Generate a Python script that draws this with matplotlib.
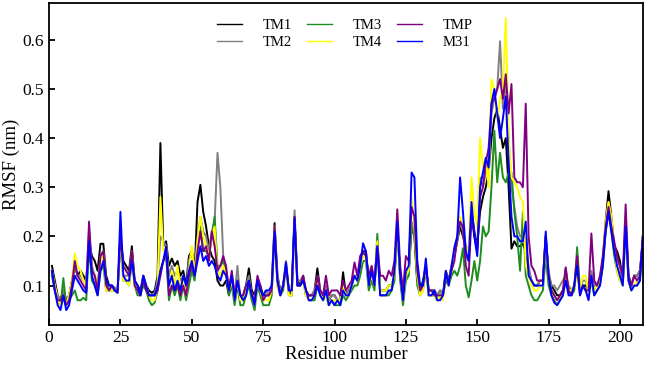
import matplotlib
matplotlib.use('Agg')
import matplotlib.pyplot as plt
import numpy as np

plt.rcParams['font.family'] = ['Liberation Serif', 'DejaVu Serif']

residues = list(range(1, 209))

tm1 = [.14, .11, .08, .07, .09, .07, .08, .11, .14, .12,
       .13, .12, .11, .19, .16, .15, .13, .185, .185, .12,
       .10, .10, .095, .09, .20, .15, .14, .13, .18, .11,
       .10, .09, .12, .10, .09, .085, .09, .12, .39, .18,
       .19, .14, .155, .14, .15, .12, .13, .10, .16, .17,
       .13, .27, .305, .25, .22, .18, .16, .15, .11, .10,
       .10, .11, .08, .12, .08, .11, .07, .08, .10, .135,
       .09, .08, .11, .10, .08, .08, .08, .10, .227, .12,
       .09, .10, .14, .09, .08, .24, .11, .10, .12, .08,
       .08, .08, .09, .135, .09, .08, .09, .07, .08, .08,
       .07, .07, .127, .08, .09, .10, .12, .11, .14, .17,
       .17, .11, .13, .10, .19, .09, .09, .09, .10, .10,
       .12, .22, .12, .07, .12, .13, .22, .20, .11, .09,
       .11, .14, .09, .09, .09, .08, .09, .08, .13, .11,
       .14, .16, .19, .22, .20, .18, .17, .25, .21, .18,
       .25, .28, .30, .33, .40, .44, .46, .42, .38, .40,
       .30, .175, .19, .18, .18, .185, .17, .13, .11, .10,
       .10, .11, .11, .20, .12, .10, .09, .08, .08, .09,
       .11, .09, .09, .10, .13, .09, .10, .10, .09, .12,
       .10, .10, .11, .15, .23, .292, .24, .18, .17, .15,
       .11, .23, .12, .10, .12, .12, .13, .19]

tm2 = [.13, .10, .08, .07, .09, .07, .08, .10, .14, .12,
       .12, .11, .10, .21, .14, .12, .10, .16, .17, .11,
       .09, .10, .095, .09, .21, .12, .12, .12, .17, .10,
       .09, .08, .12, .10, .08, .08, .085, .11, .20, .19,
       .18, .12, .14, .12, .13, .11, .12, .09, .15, .17,
       .13, .20, .24, .21, .20, .17, .21, .23, .37, .30,
       .16, .13, .10, .12, .08, .14, .07, .08, .10, .12,
       .08, .07, .11, .09, .08, .09, .08, .10, .22, .12,
       .09, .10, .15, .09, .09, .253, .11, .11, .12, .09,
       .08, .08, .09, .12, .09, .08, .10, .07, .08, .08,
       .07, .07, .10, .08, .09, .10, .12, .11, .15, .16,
       .17, .11, .13, .10, .19, .09, .09, .09, .10, .10,
       .12, .22, .12, .07, .12, .13, .23, .21, .12, .09,
       .10, .14, .09, .09, .09, .08, .09, .08, .12, .11,
       .14, .16, .19, .23, .21, .16, .15, .25, .20, .17,
       .32, .30, .33, .35, .45, .48, .50, .597, .46, .52,
       .40, .30, .26, .22, .20, .20, .18, .14, .11, .10,
       .10, .11, .11, .20, .13, .10, .10, .09, .10, .11,
       .12, .10, .09, .10, .14, .09, .11, .11, .09, .13,
       .10, .10, .11, .15, .22, .27, .23, .18, .15, .14,
       .11, .23, .12, .10, .12, .12, .13, .19]

tm3 = [.12, .09, .07, .06, .115, .06, .07, .08, .09, .07,
       .07, .075, .07, .18, .11, .10, .08, .13, .14, .09,
       .09, .09, .09, .085, .19, .11, .11, .10, .15, .10,
       .08, .08, .10, .09, .07, .06, .065, .09, .13, .15,
       .16, .07, .10, .08, .10, .07, .10, .07, .10, .13,
       .11, .18, .22, .17, .17, .16, .20, .24, .14, .14,
       .15, .13, .08, .10, .06, .10, .06, .06, .08, .10,
       .07, .05, .10, .08, .06, .06, .06, .08, .21, .10,
       .08, .09, .14, .08, .08, .22, .10, .10, .11, .08,
       .07, .07, .07, .10, .08, .07, .08, .06, .07, .06,
       .06, .06, .08, .07, .08, .09, .10, .10, .12, .15,
       .15, .09, .11, .09, .205, .08, .08, .08, .08, .09,
       .11, .22, .11, .06, .11, .12, .22, .20, .10, .08,
       .09, .13, .08, .08, .08, .07, .08, .08, .11, .10,
       .12, .13, .12, .14, .176, .10, .076, .11, .15, .11,
       .15, .22, .20, .21, .30, .415, .31, .37, .32, .31,
       .33, .33, .25, .20, .13, .25, .12, .10, .08, .07,
       .07, .08, .09, .16, .10, .08, .07, .06, .07, .08,
       .135, .09, .08, .09, .178, .09, .10, .09, .08, .11,
       .08, .09, .10, .14, .21, .25, .21, .16, .13, .11,
       .10, .22, .11, .09, .10, .10, .11, .18]

tm4 = [.13, .10, .07, .06, .08, .06, .08, .11, .165, .14,
       .13, .11, .10, .20, .13, .12, .10, .15, .16, .09,
       .09, .09, .09, .085, .20, .11, .11, .10, .16, .10,
       .09, .08, .11, .10, .08, .07, .07, .10, .28, .17,
       .18, .10, .13, .10, .14, .09, .11, .08, .13, .18,
       .12, .19, .24, .20, .18, .16, .20, .22, .13, .12,
       .14, .12, .09, .11, .07, .11, .07, .07, .09, .11,
       .08, .06, .11, .09, .07, .07, .07, .09, .22, .10,
       .08, .10, .14, .08, .08, .22, .10, .10, .11, .08,
       .07, .07, .08, .11, .09, .07, .08, .06, .07, .07,
       .07, .07, .10, .08, .08, .10, .12, .11, .14, .16,
       .16, .10, .12, .10, .19, .09, .09, .09, .10, .10,
       .12, .22, .12, .07, .12, .13, .28, .22, .12, .08,
       .09, .14, .08, .08, .08, .07, .08, .07, .13, .10,
       .14, .17, .20, .24, .22, .18, .17, .32, .25, .22,
       .40, .34, .36, .30, .52, .50, .44, .48, .50, .644,
       .40, .32, .31, .30, .28, .27, .14, .12, .10, .09,
       .09, .10, .10, .19, .12, .09, .08, .07, .075, .08,
       .11, .09, .09, .10, .12, .09, .12, .12, .08, .11,
       .09, .10, .11, .15, .23, .27, .24, .18, .13, .11,
       .10, .21, .11, .09, .10, .11, .12, .18]

tmp = [.13, .09, .07, .07, .08, .06, .07, .10, .15, .12,
       .11, .10, .09, .23, .13, .12, .09, .16, .17, .10,
       .09, .10, .09, .09, .20, .14, .13, .12, .17, .10,
       .09, .08, .11, .09, .08, .08, .08, .09, .12, .15,
       .17, .08, .10, .09, .10, .08, .10, .08, .12, .14,
       .12, .17, .21, .17, .18, .15, .21, .18, .13, .14,
       .16, .14, .09, .13, .08, .11, .08, .08, .10, .11,
       .08, .07, .12, .10, .07, .08, .08, .09, .22, .11,
       .08, .10, .14, .09, .09, .24, .10, .10, .12, .09,
       .08, .08, .08, .12, .09, .08, .12, .08, .09, .09,
       .09, .08, .11, .09, .10, .11, .147, .12, .16, .17,
       .16, .12, .14, .11, .18, .12, .12, .11, .13, .12,
       .15, .255, .14, .09, .16, .15, .26, .24, .13, .09,
       .10, .14, .09, .09, .08, .08, .08, .08, .12, .11,
       .13, .15, .20, .23, .22, .14, .12, .24, .20, .17,
       .28, .30, .35, .38, .47, .48, .50, .52, .48, .53,
       .45, .51, .32, .31, .31, .30, .47, .20, .14, .13,
       .11, .11, .11, .20, .12, .09, .08, .07, .08, .09,
       .137, .09, .08, .10, .16, .08, .10, .09, .09, .206,
       .11, .10, .12, .16, .22, .26, .22, .19, .16, .14,
       .12, .265, .12, .10, .12, .11, .12, .20]

m31 = [.13, .09, .06, .05, .08, .05, .06, .09, .12, .11,
       .10, .09, .085, .19, .12, .10, .08, .13, .15, .11,
       .10, .10, .09, .085, .25, .12, .11, .11, .15, .11,
       .10, .08, .12, .10, .08, .08, .08, .10, .13, .15,
       .18, .10, .12, .09, .11, .09, .12, .10, .13, .15,
       .12, .15, .18, .15, .16, .14, .15, .14, .12, .11,
       .13, .12, .09, .12, .07, .11, .08, .07, .08, .11,
       .08, .06, .11, .09, .08, .09, .09, .10, .21, .11,
       .08, .10, .147, .09, .09, .236, .10, .10, .11, .09,
       .07, .07, .08, .10, .08, .07, .09, .06, .07, .06,
       .07, .06, .09, .08, .08, .10, .12, .11, .14, .186,
       .17, .10, .13, .10, .18, .08, .08, .08, .09, .09,
       .13, .23, .12, .07, .13, .14, .33, .32, .15, .10,
       .10, .155, .08, .08, .09, .07, .07, .08, .13, .10,
       .14, .178, .20, .32, .25, .17, .15, .27, .20, .16,
       .30, .33, .36, .34, .47, .50, .45, .40, .44, .485,
       .35, .24, .20, .20, .19, .19, .23, .12, .11, .10,
       .10, .10, .10, .21, .12, .08, .065, .06, .07, .08,
       .11, .08, .08, .10, .14, .08, .10, .09, .07, .12,
       .08, .09, .10, .14, .21, .25, .21, .17, .14, .12,
       .10, .22, .11, .09, .10, .10, .11, .20]

names = ['TM1', 'TM2', 'TM3', 'TM4', 'TMP', 'M31']
colors = ['black', 'gray', '#1e8c1e', 'yellow', 'purple', 'blue']
series = [tm1, tm2, tm3, tm4, tmp, m31]

fig = plt.figure(figsize=(6.46, 3.65), dpi=100)
ax = fig.add_axes([0.076, 0.11, 0.919, 0.882])

for s, name, c in zip(series, names, colors):
    ax.plot(residues, s, color=c, lw=1.4, label=name)

ax.set_xlim(0, 208)
ax.set_ylim(0.02, 0.675)
ax.set_xticks(np.arange(0, 201, 25))
ax.set_yticks([0.1, 0.2, 0.3, 0.4, 0.5, 0.6])
ax.tick_params(direction='in', labelsize=12.5, length=4, width=1.3)
for sp in ax.spines.values():
    sp.set_linewidth(1.3)
ax.set_xlabel('Residue number', fontsize=13.5, labelpad=0)
ax.set_ylabel('RMSF (nm)', fontsize=13.5, labelpad=2)

leg = fig.legend(loc='upper center', bbox_to_anchor=(0.534, 0.985), ncol=3,
                 frameon=False, fontsize=10.5, handlelength=1.7,
                 handletextpad=1.45, columnspacing=1.0, labelspacing=0.25)
for h in leg.get_lines():
    h.set_linewidth(1.0)

plt.savefig('out.png', dpi=100)
